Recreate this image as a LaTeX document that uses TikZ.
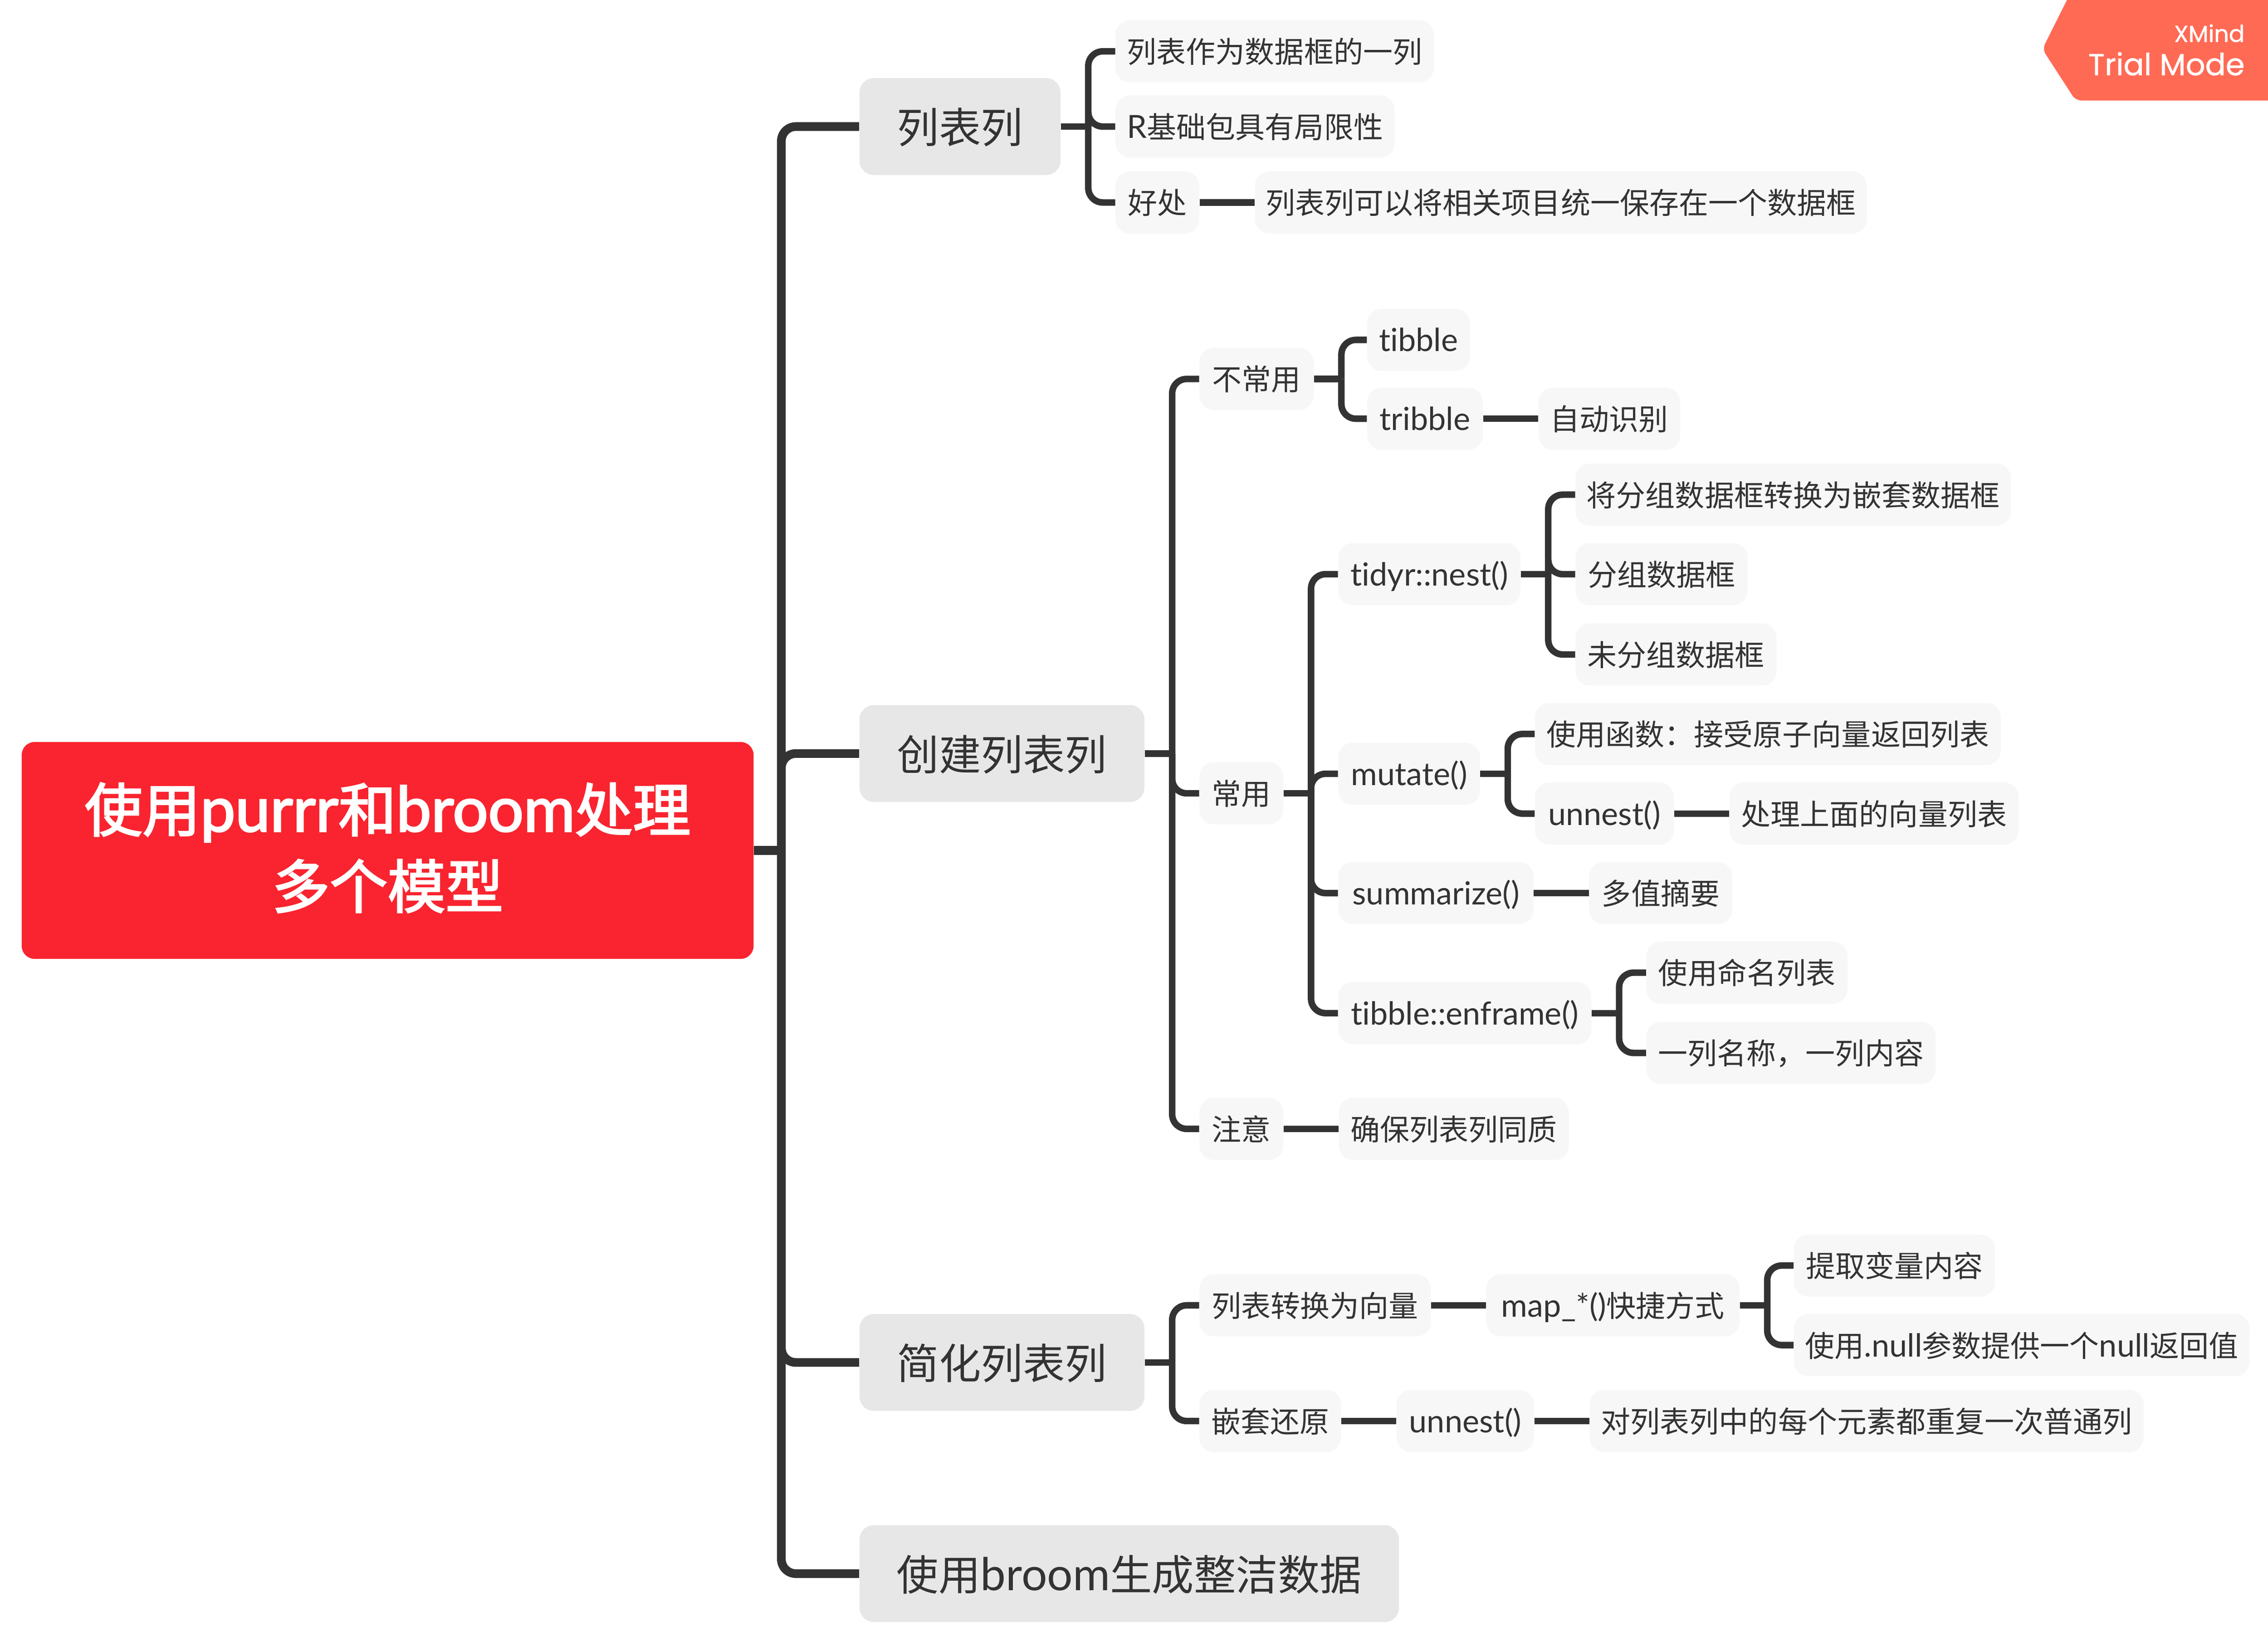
\documentclass[tikz,border=0pt]{standalone}
\usepackage{fontspec}
\usepackage{xcolor}
\usetikzlibrary{positioning}
\setmainfont{Lato}[Scale=1.08,Ligatures=NoCommon]
\newfontfamily\cjk{Noto Sans CJK SC}
\newfontfamily\bannerfont{Poppins}[FakeBold=1]
\newfontfamily\rootlatin{Lato}[Scale=1.08,Ligatures=NoCommon,FakeBold=2.5]
\newfontfamily\rootcjk{Noto Sans CJK SC}[FakeBold=2.5]
\newcommand{\zh}[1]{{\cjk #1}}
\definecolor{inkgrey}{HTML}{333333}
\definecolor{rootred}{HTML}{F9242F}
\definecolor{topicgrey}{HTML}{E7E7E7}
\definecolor{leafgrey}{HTML}{F7F7F7}
\definecolor{bannerred}{HTML}{FF6A55}
\tikzset{
  rootbox/.style={fill=rootred,text=white,rounded corners=9pt,align=center,
    minimum width=506pt,minimum height=150pt,inner sep=0pt,text depth=7pt,
    font=\fontsize{40}{53}\selectfont},
  topic/.style={fill=topicgrey,text=inkgrey,rounded corners=10pt,anchor=west,
    minimum height=67pt,inner sep=0pt,text height=26pt,text depth=3pt,
    font=\fontsize{29}{34}\selectfont},
  leaf/.style={fill=leafgrey,text=inkgrey,rounded corners=10pt,anchor=west,
    minimum height=43pt,inner sep=0pt,text height=19pt,text depth=3pt,
    font=\fontsize{20.4}{24}\selectfont},
  mainlink/.style={draw=inkgrey,line width=6pt,rounded corners=10pt},
  link/.style={draw=inkgrey,line width=4.5pt,rounded corners=10pt}
}
% trunk 19pt to the right of a parent, then one elbow per child
\newcommand{\fork}[2]{
  \coordinate[right=19pt of #1.east] (#1t);
  \draw[link] (#1.east) -- (#1t);
  \foreach \n in {#2}
    \draw[link] (#1t) |- (\n.west);
}
\begin{document}
\begin{tikzpicture}[x=1pt,y=-1pt,node distance=38pt]
  \useasboundingbox (0,0) rectangle (1568,1134.6);

  \node[rootbox] (root) at (268,588) {{\rootcjk 使用}{\rootlatin purrr}{\rootcjk 和}{\rootlatin broom}{\rootcjk 处理}\\{\rootcjk 多个模型}};

  \node[topic,minimum width=139pt] (lb) at (594,87.5) {\zh{列表列}};
  \node[topic,minimum width=197pt] (cj) at (594,521) {\zh{创建列表列}};
  \node[topic,minimum width=197pt] (jh) at (594,942) {\zh{简化列表列}};
  \node[topic,minimum width=373pt] (sy) at (594,1088) {\zh{使用}broom\zh{生成整洁数据}};

  % first branch
  \node[leaf,minimum width=220pt] (a1) at (771,35.5) {\zh{列表作为数据框的一列}};
  \node[leaf,minimum width=193pt] (a2) at (771,87.5) {R\zh{基础包具有局限性}};
  \node[leaf,minimum width=58pt] (a3) at (771,140) {\zh{好处}};
  \node[leaf,minimum width=423pt,right=of a3] (a4) {\zh{列表列可以将相关项目统一保存在一个数据框}};

  % second branch
  \node[leaf,minimum width=79pt] (c1) at (829,262) {\zh{不常用}};
  \node[leaf,minimum width=58pt] (c2) at (829,548.5) {\zh{常用}};
  \node[leaf,minimum width=58pt] (c3) at (829,780.5) {\zh{注意}};
  \node[leaf,minimum width=71pt] (d1) at (945,235) {tibble};
  \node[leaf,minimum width=80pt] (d2) at (945,289.5) {tribble};
  \node[leaf,minimum width=98pt,right=of d2] (d3) {\zh{自动识别}};
  \node[leaf,minimum width=126pt] (e1) at (925,397) {tidyr::nest()};
  \node[leaf,minimum width=98pt] (e2) at (925,535) {mutate()};
  \node[leaf,minimum width=135pt] (e3) at (925,617.5) {summarize()};
  \node[leaf,minimum width=175pt] (e4) at (925,700.5) {tibble::enframe()};
  \node[leaf,minimum width=301pt] (f1) at (1089,342) {\zh{将分组数据框转换为嵌套数据框}};
  \node[leaf,minimum width=119pt] (f2) at (1089,397) {\zh{分组数据框}};
  \node[leaf,minimum width=139pt] (f3) at (1089,452.5) {\zh{未分组数据框}};
  \node[leaf,minimum width=322pt] (g1) at (1061,507.5) {\zh{使用函数：接受原子向量返回列表}};
  \node[leaf,minimum width=96pt] (g2) at (1061,562.5) {unnest()};
  \node[leaf,minimum width=200pt,right=of g2] (g3) {\zh{处理上面的向量列表}};
  \node[leaf,minimum width=99pt,right=of e3] (h1) {\zh{多值摘要}};
  \node[leaf,minimum width=139pt] (i1) at (1138,672.5) {\zh{使用命名列表}};
  \node[leaf,minimum width=200pt] (i2) at (1138,728) {\zh{一列名称，一列内容}};
  \node[leaf,minimum width=159pt,right=of c3] (j1) {\zh{确保列表列同质}};

  % third branch
  \node[leaf,minimum width=160pt] (k1) at (829,902.5) {\zh{列表转换为向量}};
  \node[leaf,minimum width=98pt] (k2) at (829,982.5) {\zh{嵌套还原}};
  \node[leaf,minimum width=175pt,right=of k1] (k3) {map\_*()\zh{快捷方式}};
  \node[leaf,minimum width=95pt,right=of k2] (k4) {unnest()};
  \node[leaf,minimum width=383pt,right=of k4] (k5) {\zh{对列表列中的每个元素都重复一次普通列}};
  \node[leaf,minimum width=139pt] (l1) at (1240,875) {\zh{提取变量内容}};
  \node[leaf,minimum width=315pt] (l2) at (1240,930) {\zh{使用}.null\zh{参数提供一个}null\zh{返回值}};

  \coordinate[right=19pt of root.east] (roott);
  \draw[mainlink] (root.east) -- (roott);
  \foreach \n in {lb,cj,jh,sy}
    \draw[mainlink] (roott) |- (\n.west);

  \fork{lb}{a1,a2,a3}
  \fork{cj}{c1,c2,c3}
  \fork{jh}{k1,k2}
  \fork{c1}{d1,d2}
  \fork{c2}{e1,e2,e3,e4}
  \fork{e1}{f1,f2,f3}
  \fork{e2}{g1,g2}
  \fork{e4}{i1,i2}
  \fork{k3}{l1,l2}

  \foreach \p/\q in {a3/a4,d2/d3,g2/g3,e3/h1,c3/j1,k1/k3,k2/k4,k4/k5}
    \draw[link] (\p.east) -- (\q.west);

  % trial banner in the corner
  \fill[bannerred,rounded corners=4pt] (1575,-4) -- (1431,-4) -- (1412,34) -- (1435,69.5) -- (1575,69.5) -- cycle;
  \node[anchor=base east,text=white,inner sep=0pt,font=\bannerfont\fontsize{16}{18}\selectfont] (xmind) at (1552,29) {XMind};
  \node[anchor=base east,text=white,inner sep=0pt,font=\bannerfont\fontsize{21}{23}\selectfont] (trial) at (1552,52) {Trial Mode};
\end{tikzpicture}
\end{document}
